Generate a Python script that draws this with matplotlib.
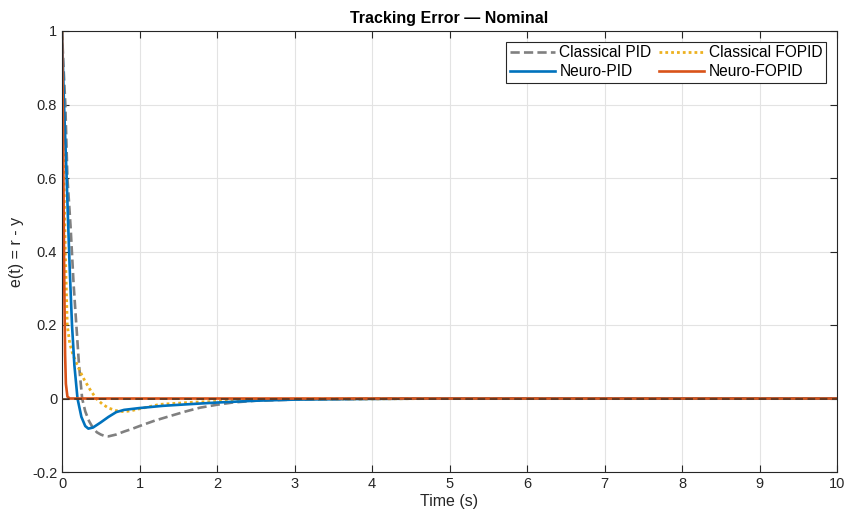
import matplotlib
matplotlib.use("Agg")
import matplotlib.pyplot as plt

plt.rcParams['font.family'] = ['Liberation Sans', 'DejaVu Sans']

# Classical PID (gray dashed)
t_cpid = [0, 0.02, 0.043, 0.07, 0.11, 0.15, 0.185, 0.22, 0.26, 0.3, 0.35, 0.4, 0.45, 0.5, 0.55, 0.6,
          0.7, 0.8, 0.9, 1.0, 1.2, 1.39, 1.6, 1.78, 2.0, 2.2, 2.5, 3.0, 4.0, 5.0, 10.0]
e_cpid = [1.0, 0.9, 0.8, 0.6, 0.47, 0.31, 0.2, 0.09, 0.0, -0.035, -0.062, -0.08, -0.092, -0.098, -0.102, -0.103,
          -0.098, -0.09, -0.083, -0.075, -0.06, -0.048, -0.035, -0.025, -0.017, -0.011, -0.006, -0.003, -0.001, 0.0, 0.0]

# Classical FOPID (yellow dotted)
t_cfopid = [0, 0.012, 0.025, 0.043, 0.068, 0.1, 0.14, 0.18, 0.23, 0.29, 0.36, 0.44, 0.52, 0.6, 0.7, 0.8,
            0.9, 1.0, 1.26, 1.7, 2.0, 2.5, 3.0, 4.0, 5.0, 10.0]
e_cfopid = [1.0, 0.8, 0.6, 0.4, 0.2, 0.15, 0.12, 0.1, 0.075, 0.05, 0.025, 0.0, -0.015, -0.026, -0.033, -0.036,
            -0.033, -0.028, -0.016, -0.01, -0.008, -0.004, -0.002, -0.001, 0.0, 0.0]

# Neuro-PID (blue solid)
t_npid = [0, 0.026, 0.06, 0.077, 0.1, 0.129, 0.16, 0.2, 0.25, 0.3, 0.34, 0.4, 0.5, 0.6, 0.7, 0.8,
          1.0, 1.3, 1.6, 2.0, 2.5, 3.0, 4.0, 5.0, 10.0]
e_npid = [1.0, 0.8, 0.6, 0.49, 0.35, 0.2, 0.09, 0.0, -0.05, -0.075, -0.082, -0.079, -0.065, -0.05, -0.037, -0.031,
          -0.026, -0.02, -0.016, -0.011, -0.006, -0.003, -0.001, 0.0, 0.0]

# Neuro-FOPID (orange solid)
t_nfopid = [0, 0.01, 0.02, 0.03, 0.04, 0.05, 0.07, 0.1, 10.0]
e_nfopid = [1.0, 0.8, 0.55, 0.3, 0.12, 0.04, 0.005, 0.0, 0.0]

x_ticks = [0, 1, 2, 3, 4, 5, 6, 7, 8, 9, 10]
y_ticks = [-0.2, 0, 0.2, 0.4, 0.6, 0.8, 1]
y_tick_labels = ['-0.2', '0', '0.2', '0.4', '0.6', '0.8', '1']

fig = plt.figure(figsize=(8.46, 5.19), dpi=100)
ax = fig.add_axes([62/846, 1-472/519, (837-62)/846, (472-31)/519])

ax.plot(t_cpid, e_cpid, color=(0.5, 0.5, 0.5), lw=1.9, ls=(0, (3.5, 1.6)), label='Classical PID')
ax.plot(t_cfopid, e_cfopid, color='#EDB120', lw=2.0, ls=(0, (1, 1.1)), label='Classical FOPID')
ax.plot(t_npid, e_npid, color='#0072BD', lw=1.9, label='Neuro-PID')
ax.plot(t_nfopid, e_nfopid, color='#D95319', lw=1.9, label='Neuro-FOPID')
ax.axhline(0, color='#4a3020', lw=1.1, ls=(0, (5, 3)), zorder=5)

ax.set_xlim(0, 10)
ax.set_ylim(-0.2, 1)
ax.set_xticks(x_ticks)
ax.set_yticks(y_ticks)
ax.set_yticklabels(y_tick_labels)
ax.grid(True, color='#e3e3e3', lw=0.8)
ax.set_axisbelow(True)
ax.tick_params(direction='in', top=True, right=True, length=5, width=0.8,
               colors='#262626', labelsize=10.5)
for s in ax.spines.values():
    s.set_color('#262626')
    s.set_linewidth(0.8)

ax.set_title('Tracking Error — Nominal', fontsize=11.5, fontweight='bold', color='black', pad=6)
ax.set_xlabel('Time (s)', fontsize=11.5, color='#262626', labelpad=2)
ax.set_ylabel('e(t) = r - y', fontsize=11.5, color='#262626', labelpad=6)

handles, labels = ax.get_legend_handles_labels()
order = [0, 2, 1, 3]
leg = ax.legend([handles[i] for i in order], [labels[i] for i in order], ncol=2,
                loc='upper right', bbox_to_anchor=((826-62)/775, (472-42)/441), fontsize=11.2,
                frameon=True, fancybox=False, edgecolor='#262626', framealpha=1,
                handlelength=2.9, handletextpad=0.3, columnspacing=0.5,
                borderpad=0.22, labelspacing=0.25, borderaxespad=0)
leg.get_frame().set_linewidth(0.8)

fig.savefig('out.png', dpi=100)
